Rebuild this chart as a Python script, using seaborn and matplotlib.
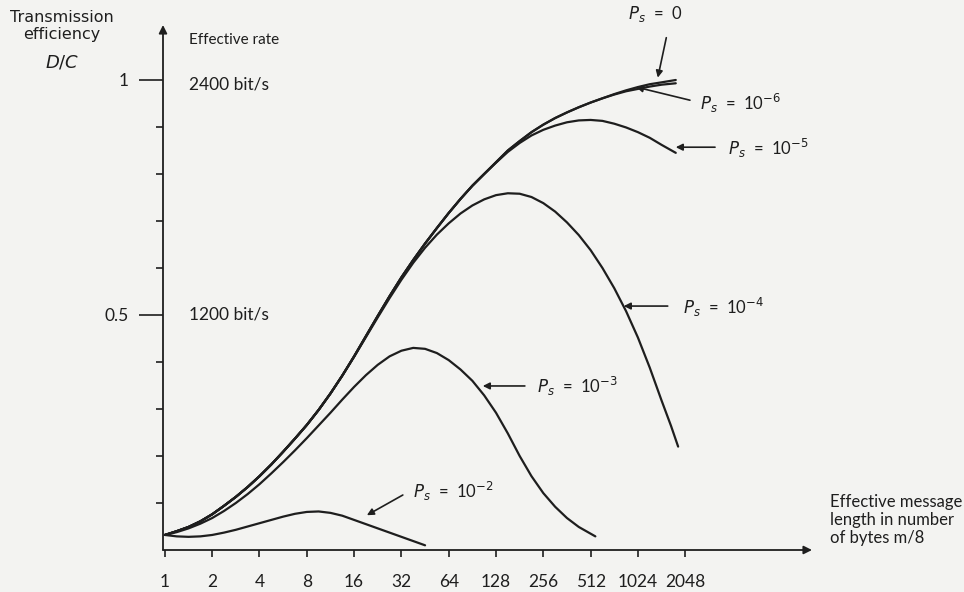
import numpy as np
import pandas as pd
import matplotlib
matplotlib.use("Agg")
import matplotlib.pyplot as plt
import seaborn as sns

# ---- data ----
# positions along the message-length axis, as log2(bytes), and transmission efficiency D/C
u_p0 = [0, 0.25, 0.5, 0.75, 1, 1.25, 1.5, 1.75, 2, 2.25, 2.5, 2.75, 3, 3.25, 3.5, 3.75, 4, 4.25,
        4.5, 4.75, 5, 5.25, 5.5, 5.75, 6, 6.25, 6.5, 6.75, 7, 7.25, 7.5, 7.75, 8, 8.25, 8.5, 8.75,
        9, 9.25, 9.5, 9.75, 10, 10.25, 10.5, 10.8]
e_p0 = [0.032, 0.040, 0.049, 0.061, 0.076, 0.094, 0.113, 0.134, 0.157, 0.182, 0.209, 0.237,
        0.266, 0.298, 0.333, 0.371, 0.412, 0.455, 0.498, 0.540, 0.580, 0.617, 0.652, 0.685,
        0.717, 0.747, 0.775, 0.800, 0.825, 0.850, 0.870, 0.889, 0.905, 0.919, 0.931, 0.942,
        0.952, 0.961, 0.970, 0.978, 0.985, 0.991, 0.995, 1.000]

u_p6 = [0, 0.25, 0.5, 0.75, 1, 1.25, 1.5, 1.75, 2, 2.25, 2.5, 2.75, 3, 3.25, 3.5, 3.75, 4, 4.25,
        4.5, 4.75, 5, 5.25, 5.5, 5.75, 6, 6.25, 6.5, 6.75, 7, 7.25, 7.5, 7.75, 8, 8.25, 8.5, 8.75,
        9, 9.25, 9.5, 9.75, 10, 10.25, 10.5, 10.8]
e_p6 = [0.032, 0.040, 0.049, 0.061, 0.076, 0.094, 0.113, 0.134, 0.157, 0.182, 0.209, 0.237,
        0.266, 0.298, 0.333, 0.371, 0.412, 0.455, 0.498, 0.540, 0.580, 0.617, 0.652, 0.685,
        0.717, 0.747, 0.775, 0.800, 0.825, 0.850, 0.870, 0.889, 0.905, 0.919, 0.931, 0.942,
        0.952, 0.961, 0.969, 0.976, 0.981, 0.986, 0.990, 0.993]

u_p5 = [0, 0.25, 0.5, 0.75, 1, 1.25, 1.5, 1.75, 2, 2.25, 2.5, 2.75, 3, 3.25, 3.5, 3.75, 4, 4.25,
        4.5, 4.75, 5, 5.25, 5.5, 5.75, 6, 6.25, 6.5, 6.75, 7, 7.25, 7.5, 7.75, 8, 8.25, 8.5, 8.75,
        9, 9.25, 9.5, 9.75, 10, 10.25, 10.5, 10.8]
e_p5 = [0.032, 0.040, 0.049, 0.061, 0.076, 0.094, 0.113, 0.134, 0.157, 0.182, 0.209, 0.237,
        0.266, 0.298, 0.333, 0.371, 0.412, 0.455, 0.498, 0.540, 0.580, 0.617, 0.652, 0.685,
        0.717, 0.747, 0.775, 0.800, 0.824, 0.847, 0.866, 0.882, 0.894, 0.903, 0.910, 0.914,
        0.915, 0.913, 0.907, 0.899, 0.889, 0.877, 0.862, 0.845]

u_p4 = [0, 0.25, 0.5, 0.75, 1, 1.25, 1.5, 1.75, 2, 2.25, 2.5, 2.75, 3, 3.25, 3.5, 3.75, 4, 4.25,
        4.5, 4.75, 5, 5.25, 5.5, 5.75, 6, 6.25, 6.5, 6.75, 7, 7.25, 7.5, 7.75, 8, 8.25, 8.5, 8.75,
        9, 9.25, 9.5, 9.75, 10, 10.25, 10.5, 10.7, 10.85]
e_p4 = [0.032, 0.040, 0.049, 0.061, 0.076, 0.094, 0.113, 0.134, 0.157, 0.182, 0.209, 0.237,
        0.266, 0.298, 0.333, 0.371, 0.411, 0.453, 0.495, 0.536, 0.575, 0.611, 0.643, 0.671,
        0.695, 0.716, 0.733, 0.746, 0.755, 0.759, 0.758, 0.751, 0.738, 0.720, 0.697, 0.670,
        0.638, 0.600, 0.557, 0.508, 0.452, 0.388, 0.318, 0.264, 0.220]

u_p3 = [0, 0.25, 0.5, 0.75, 1, 1.25, 1.5, 1.75, 2, 2.25, 2.5, 2.75, 3, 3.25, 3.5, 3.75, 4, 4.25,
        4.5, 4.75, 5, 5.25, 5.5, 5.75, 6, 6.25, 6.5, 6.75, 7, 7.25, 7.5, 7.75, 8, 8.25, 8.5, 8.75,
        9.1]
e_p3 = [0.032, 0.038, 0.046, 0.056, 0.068, 0.083, 0.100, 0.119, 0.140, 0.163, 0.187, 0.212,
        0.238, 0.265, 0.292, 0.320, 0.347, 0.372, 0.394, 0.412, 0.424, 0.430, 0.428, 0.419,
        0.404, 0.384, 0.360, 0.329, 0.292, 0.248, 0.200, 0.157, 0.121, 0.092, 0.068, 0.049,
        0.029]

u_p2 = [0, 0.25, 0.5, 0.75, 1, 1.25, 1.5, 1.75, 2, 2.25, 2.5, 2.75, 3, 3.25, 3.5, 3.75, 4, 4.25,
        4.5, 4.75, 5, 5.25, 5.5]
e_p2 = [0.032, 0.029, 0.028, 0.029, 0.032, 0.037, 0.043, 0.050, 0.057, 0.064, 0.071, 0.077,
        0.081, 0.082, 0.079, 0.073, 0.064, 0.055, 0.046, 0.037, 0.028, 0.019, 0.010]

x_ticks = [1, 2, 4, 8, 16, 32, 64, 128, 256, 512, 1024, 2048]
x_tick_labels = ["1", "2", "4", "8", "16", "32", "64", "128", "256", "512", "1024", "2048"]
y_ticks = [0.5, 1.0]
y_tick_labels = ["0.5", "1"]
y_minor = [0.1, 0.2, 0.3, 0.4, 0.6, 0.7, 0.8, 0.9]

series = [("0", u_p0, e_p0), ("1e-6", u_p6, e_p6), ("1e-5", u_p5, e_p5),
          ("1e-4", u_p4, e_p4), ("1e-3", u_p3, e_p3), ("1e-2", u_p2, e_p2)]
df = pd.concat([pd.DataFrame({"m": np.power(2.0, u), "eff": e, "Ps": name})
                for name, u, e in series], ignore_index=True)

sns.set_style("white")
plt.rcParams["font.family"] = ["Lato", "DejaVu Sans"]
plt.rcParams["mathtext.fontset"] = "dejavusans"

bg = "#f3f3f1"
ink = "#1e1e1e"
fig = plt.figure(figsize=(9.64, 5.92), dpi=100, facecolor=bg)
ax = fig.add_axes([163 / 964, 42 / 592, (812 - 163) / 964, (567 - 42) / 592])
ax.set_facecolor(bg)

sns.lineplot(data=df, x="m", y="eff", hue="Ps", palette=[ink] * 6, legend=False,
             estimator=None, sort=False, linewidth=1.6, ax=ax)

ax.set_xscale("log", base=2)
ax.set_xlim(2 ** -0.04, 2 ** 13.68)
ax.set_ylim(0, 1.117)
for s in ax.spines.values():
    s.set_visible(False)

ax.set_xticks(x_ticks)
ax.set_xticklabels(x_tick_labels, fontsize=12.5)
ax.xaxis.set_minor_locator(matplotlib.ticker.NullLocator())
ax.tick_params(axis="x", which="major", direction="out", length=5, width=1.2,
               color=ink, pad=12, labelcolor=ink, bottom=True)
ax.set_yticks(y_ticks)
ax.set_yticklabels(y_tick_labels, fontsize=12.5)
ax.set_yticks(y_minor, minor=True)
ax.tick_params(axis="y", which="major", direction="out", length=17, width=1.2,
               color=ink, pad=8, labelcolor=ink, left=True)
ax.tick_params(axis="y", which="minor", direction="out", length=5, width=1.2,
               color=ink, left=True)
ax.set_xlabel("")
ax.set_ylabel("")

# axes drawn as arrows
ax.annotate("", xy=(1.0, 0), xytext=(0, 0), xycoords="axes fraction",
            arrowprops=dict(arrowstyle="-|>", color=ink, lw=1.3, mutation_scale=12,
                            shrinkA=0, shrinkB=0))
ax.annotate("", xy=(0, 1.0), xytext=(0, 0), xycoords="axes fraction",
            arrowprops=dict(arrowstyle="-|>", color=ink, lw=1.3, mutation_scale=12,
                            shrinkA=0, shrinkB=0))

# axis texts
fig.text(62 / 964, 1 - 10 / 592, "Transmission\nefficiency", ha="center", va="top",
         fontsize=11.5, color=ink, family=["DejaVu Sans"], linespacing=1.15)
fig.text(62 / 964, 1 - 62 / 592, "$D/C$", ha="center", va="center", fontsize=13, color=ink)
ax.text(2 ** 0.5, 1.085, "Effective rate", ha="left", va="center", fontsize=11, color=ink)
ax.text(2 ** 0.5, 0.99, "2400 bit/s", ha="left", va="center", fontsize=12.5, color=ink)
ax.text(2 ** 0.5, 0.50, "1200 bit/s", ha="left", va="center", fontsize=12.5, color=ink)
fig.text(830 / 964, 1 - 520 / 592, "Effective message\nlength in number\nof bytes m/8",
         ha="left", va="center", fontsize=12, color=ink, linespacing=1.15)

# curve labels with arrows
arrow_kw = dict(arrowstyle="-|>", color=ink, lw=1.2, mutation_scale=10, shrinkA=0, shrinkB=0)
labels = [
    (r"$P_s$  =  0", (10.36, 1.14), "center", (10.6, 1.09), (10.42, 1.005)),
    (r"$P_s$  =  10$^{-6}$", (11.32, 0.951), "left", (11.1, 0.957), (9.96, 0.985)),
    (r"$P_s$  =  10$^{-5}$", (11.9, 0.855), "left", (11.63, 0.857), (10.8, 0.857)),
    (r"$P_s$  =  10$^{-4}$", (10.95, 0.517), "left", (10.63, 0.519), (9.7, 0.519)),
    (r"$P_s$  =  10$^{-3}$", (7.86, 0.349), "left", (7.61, 0.349), (6.72, 0.349)),
    (r"$P_s$  =  10$^{-2}$", (5.24, 0.125), "left", (5.03, 0.117), (4.27, 0.074)),
]
for txt, (tu, ty), ha, (au, ay), (hu, hy) in labels:
    ax.text(2 ** tu, ty, txt, ha=ha, va="center", fontsize=12, color=ink, clip_on=False)
    ax.annotate("", xy=(2 ** hu, hy), xytext=(2 ** au, ay), arrowprops=arrow_kw,
                annotation_clip=False)

fig.savefig("out.png", dpi=100, facecolor=bg)
